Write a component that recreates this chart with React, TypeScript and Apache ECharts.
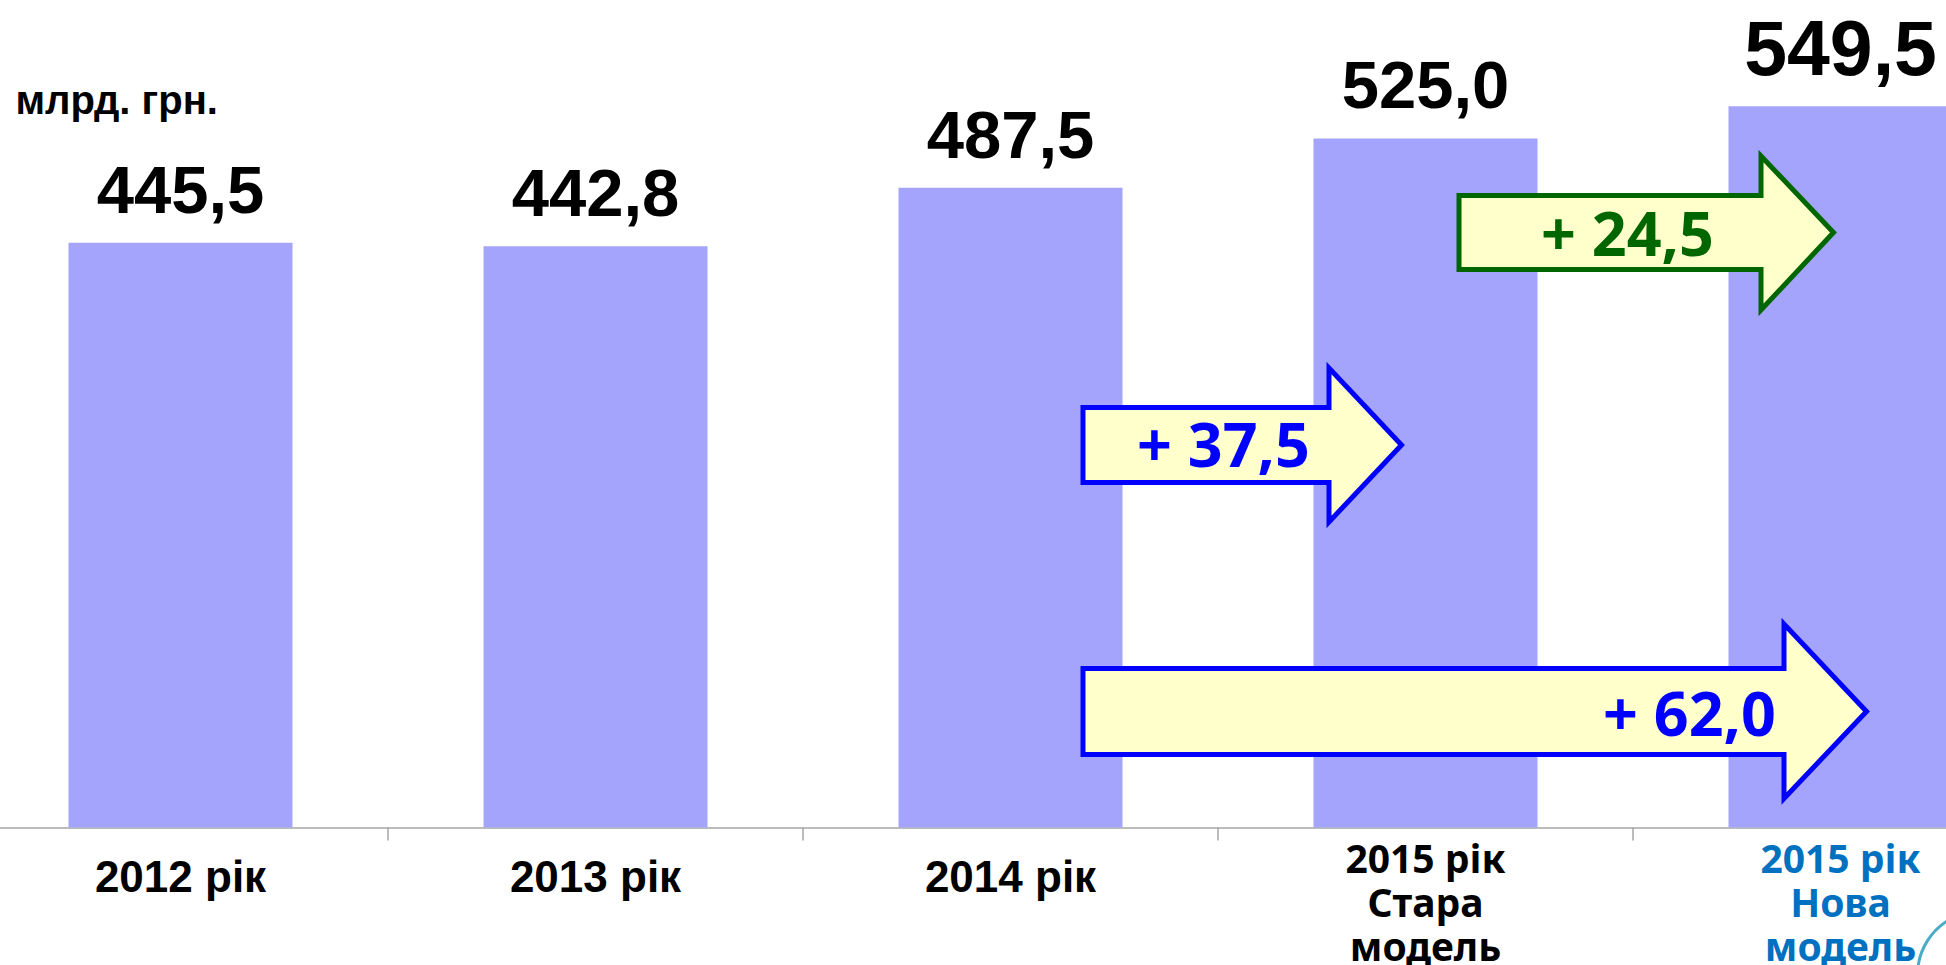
import React, { useEffect, useRef } from 'react';
import * as echarts from 'echarts';

// ---------- data ----------
const categories = ['2012 рік', '2013 рік', '2014 рік', '2015 рік\nСтара\nмодель', '2015 рік\nНова\nмодель'];
const values = [445.5, 442.8, 487.5, 525.0, 549.5];
const unitLabel = 'млрд. грн.';
const yMin = 0;
const yMax = 600;
const highlightIndex = 4; // bigger value label
// increments shown as arrows (from category -> to category)
const arrowFrom = [2, 3, 2];
const arrowTo = [3, 4, 4];

// ---------- layout / styles (annotations) ----------
const SHIFT = 27.5; // chart canvas starts left of the visible page
const arrowColors = ['#0000FF', '#006600', '#0000FF'];
// [left, bodyTop, bodyBottom, headBaseX, headTop, headBottom, tipX, midY, textX, textY] in page pixels
const arrowGeom = [
  [1082.5, 407.5, 482.5, 1328.5, 368, 522, 1401, 445, 1223, 443.5],
  [1458.5, 195.5, 269.5, 1760.5, 156, 310, 1833, 232.5, 1627, 232],
  [1082.5, 668.5, 754.5, 1783.5, 624, 798.5, 1866, 711.5, 1689, 712.5],
];

const fmt = (v: number) => v.toFixed(1).replace('.', ',');

export default function App() {
  const ref = useRef<HTMLDivElement>(null);

  useEffect(() => {
    if (!ref.current) return;
    const chart = echarts.init(ref.current, undefined, { renderer: 'svg' });

    const arrowGraphics: any[] = [];
    arrowFrom.forEach((from, k) => {
      const to = arrowTo[k];
      const diff = values[to] - values[from];
      const [L, bt, bb, hb, ht, hbot, tip, mid, tx, ty] = arrowGeom[k];
      const X = (x: number) => x + SHIFT;
      arrowGraphics.push({
        type: 'polygon',
        z: 100,
        shape: {
          points: [[X(L), bt], [X(hb), bt], [X(hb), ht], [X(tip), mid], [X(hb), hbot], [X(hb), bb], [X(L), bb]],
        },
        style: { fill: '#FFFFCC', stroke: arrowColors[k], lineWidth: 5, lineJoin: 'miter' },
      });
      arrowGraphics.push({
        type: 'text',
        z: 101,
        style: {
          text: '+ ' + fmt(diff),
          x: X(tx),
          y: ty,
          fill: arrowColors[k],
          fontFamily: '"Noto Sans", sans-serif',
          fontWeight: 'bold',
          fontSize: 61,
          align: 'center',
          verticalAlign: 'middle',
        },
      });
    });

    const option: any = {
      animation: false,
      backgroundColor: '#FFFFFF',
      grid: { left: 0, width: 2075, top: 40, height: 789, containLabel: false },
      xAxis: {
        type: 'category',
        data: categories,
        axisLine: { show: true, lineStyle: { color: '#A6A6A6', width: 1.5 } },
        axisTick: { show: true, length: 13, lineStyle: { color: '#A6A6A6', width: 1.5 } },
        axisLabel: {
          interval: 0,
          margin: 8,
          hideOverlap: false,
          formatter: (value: string, idx: number) => {
            if (idx < 3) return `{a|${value}}`;
            const key = idx === 3 ? 'b' : 'c';
            return value.split('\n').map((l) => `{${key}|${l}}`).join('\n');
          },
          rich: {
            a: {
              fontFamily: '"Liberation Sans", Arial, sans-serif',
              fontWeight: 'bold',
              fontSize: 44,
              lineHeight: 81,
              color: '#000000',
            },
            b: {
              fontFamily: '"Noto Sans", sans-serif',
              fontWeight: 'bold',
              fontSize: 39,
              lineHeight: 44,
              color: '#000000',
            },
            c: {
              fontFamily: '"Noto Sans", sans-serif',
              fontWeight: 'bold',
              fontSize: 39,
              lineHeight: 44,
              color: '#0070C0',
            },
          },
        },
      },
      yAxis: {
        type: 'value',
        min: yMin,
        max: yMax,
        show: false,
        splitLine: { show: false },
      },
      series: [
        {
          type: 'bar',
          barWidth: 224,
          itemStyle: { color: '#A4A4FC' },
          label: {
            show: true,
            position: 'top',
            distance: 20,
            fontFamily: '"Liberation Sans", Arial, sans-serif',
            fontWeight: 'bold',
            fontSize: 67,
            lineHeight: 67,
            color: '#000000',
            formatter: (p: any) => fmt(p.value),
          },
          data: values.map((v, i) =>
            i === highlightIndex ? { value: v, label: { fontSize: 77, lineHeight: 77 } } : v
          ),
        },
      ],
      graphic: [
        {
          type: 'text',
          z: 100,
          style: {
            text: unitLabel,
            x: 15 + SHIFT,
            y: 100,
            fill: '#000000',
            fontFamily: '"Liberation Sans", Arial, sans-serif',
            fontWeight: 'bold',
            fontSize: 40,
            align: 'left',
            verticalAlign: 'middle',
          },
        },
        ...arrowGraphics,
        {
          type: 'circle',
          z: 100,
          shape: { cx: 1981 + SHIFT, cy: 975, r: 64 },
          style: { fill: 'none', stroke: '#4BACC6', lineWidth: 3 },
        },
      ],
    };

    chart.setOption(option);
    return () => chart.dispose();
  }, []);

  return (
    <div
      style={{ position: 'absolute', left: 0, top: 0, width: 1946, height: 965, overflow: 'hidden', background: '#fff' }}
    >
      <div
        ref={ref}
        style={{ position: 'absolute', left: -SHIFT, top: 0, width: 2110, height: 965 }}
      />
    </div>
  );
}
